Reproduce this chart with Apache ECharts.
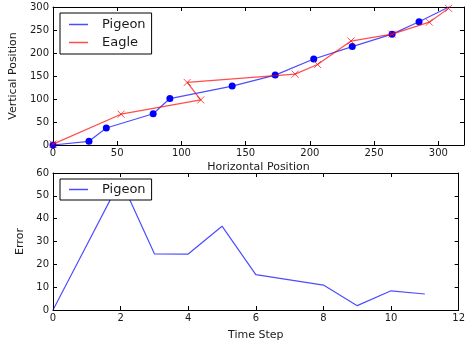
<!DOCTYPE html>
<html>
<head>
<meta charset="utf-8">
<script src="https://cdn.jsdelivr.net/npm/echarts@6/dist/echarts.min.js"></script>
<style>
  html, body { margin: 0; padding: 0; background: #fff; }
  #chart { width: 468px; height: 346px; }
</style>
</head>
<body>
<div id="chart"></div>
<script>
// Top plot: flight paths
const pigeonX = [0, 28, 41.5, 78, 91, 139.5, 173, 203, 233, 264, 285, 309];
const pigeonY = [0, 8, 37, 68, 101, 128, 152, 187, 214, 241, 268, 301];
const eagleX = [0, 53, 115, 104.5, 188.5, 206, 232, 264, 293, 308];
const eagleY = [2, 67, 98, 136, 154, 175, 226, 241, 267, 297];

// Bottom plot: error per time step
const timeSteps = [0, 1, 2, 3, 4, 5, 6, 7, 8, 9, 10, 11];
const errorValues = [0, 28.5, 57, 24.6, 24.5, 36.7, 15.5, 13.2, 10.9, 1.9, 8.4, 7.0];

const FONT = "DejaVu Sans";
const TEXT = "#1a1a1a";
const BLUE_LINE = "rgba(0, 0, 255, 0.7)";
const RED_LINE = "rgba(255, 0, 0, 0.7)";

const pair = (xs, ys) => xs.map((x, i) => [x, ys[i]]);

// axis factory, matplotlib classic look: inward ticks on every side
const makeAxis = (gridIndex, position, min, max, interval, withLabels, extra) => Object.assign({
   type: "value",
   gridIndex,
   position,
   min,
   max,
   interval,
   axisLine: { show: true, onZero: false, lineStyle: { color: "#000", width: 1 } },
   axisTick: { show: true, inside: true, length: 4, lineStyle: { color: "#000" } },
   splitLine: { show: false },
   axisLabel: {
      show: withLabels,
      fontFamily: FONT,
      fontSize: 10,
      color: TEXT,
      margin: 4,
   },
   nameTextStyle: { fontFamily: FONT, fontSize: 11, color: TEXT },
}, extra || {});

// legend entries: plain line sample, no marker
const legendItem = (name, color) => ({ name, itemStyle: { color, borderWidth: 0 } });

const chart = echarts.init(document.getElementById("chart"), null, { renderer: "canvas" });

const option = {
   animation: false,
   backgroundColor: "#fff",
   textStyle: { fontFamily: FONT },
   grid: [
      { left: 53, top: 7, width: 411, height: 138, containLabel: false },
      { left: 53, top: 173, width: 411, height: 137, containLabel: false },
   ],
   xAxis: [
      makeAxis(0, "bottom", 0, 320, 50, true, {
         name: "Horizontal Position", nameLocation: "middle", nameGap: 17,
         axisLabel: { show: true, fontFamily: FONT, fontSize: 10, color: TEXT, margin: 3, showMaxLabel: false },
      }),
      makeAxis(0, "top", 0, 320, 50, false),
      makeAxis(1, "bottom", 0, 12, 2, true, {
         name: "Time Step", nameLocation: "middle", nameGap: 20,
         axisLabel: { show: true, fontFamily: FONT, fontSize: 10, color: TEXT, margin: 3 },
      }),
      makeAxis(1, "top", 0, 12, 2, false),
   ],
   yAxis: [
      makeAxis(0, "left", 0, 300, 50, true, { name: "Vertical Position", nameLocation: "middle", nameGap: 28 }),
      makeAxis(0, "right", 0, 300, 50, false),
      makeAxis(1, "left", 0, 60, 10, true, { name: "Error", nameLocation: "middle", nameGap: 19 }),
      makeAxis(1, "right", 0, 60, 10, false),
   ],
   legend: [
      {
         left: 60,
         top: 13,
         orient: "vertical",
         backgroundColor: "#fff",
         borderColor: "#000",
         borderWidth: 1,
         borderRadius: 0,
         padding: [5, 6, 5, 9],
         itemGap: 5,
         itemWidth: 19,
         itemHeight: 1.5,
         icon: "rect",
         textStyle: { fontFamily: FONT, fontSize: 13, color: TEXT, padding: [0, 0, 0, 9] },
         data: [legendItem("Pigeon", BLUE_LINE), legendItem("Eagle", RED_LINE)],
         selectedMode: false,
      },
      {
         left: 60,
         top: 179,
         orient: "vertical",
         backgroundColor: "#fff",
         borderColor: "#000",
         borderWidth: 1,
         borderRadius: 0,
         padding: [4, 6, 4, 9],
         itemWidth: 19,
         itemHeight: 1.5,
         icon: "rect",
         textStyle: { fontFamily: FONT, fontSize: 13, color: TEXT, padding: [0, 0, 0, 9] },
         data: [legendItem("Pigeon", BLUE_LINE)],
         selectedMode: false,
      },
   ],
   series: [
      {
         name: "Pigeon",
         type: "line",
         xAxisIndex: 0,
         yAxisIndex: 0,
         data: pair(pigeonX, pigeonY),
         symbol: "circle",
         symbolSize: 7,
         showAllSymbol: true,
         itemStyle: { color: "#0000ff" },
         lineStyle: { color: BLUE_LINE, width: 1.2 },
         z: 2,
      },
      {
         name: "Eagle",
         type: "line",
         xAxisIndex: 0,
         yAxisIndex: 0,
         data: pair(eagleX, eagleY),
         symbol: "path://M0,0L8,8M8,0L0,8",
         symbolSize: 7,
         showAllSymbol: true,
         itemStyle: { color: "none", borderColor: RED_LINE, borderWidth: 1 },
         lineStyle: { color: RED_LINE, width: 1.2 },
         z: 3,
      },
      {
         name: "Pigeon",
         type: "line",
         xAxisIndex: 2,
         yAxisIndex: 2,
         data: pair(timeSteps, errorValues),
         showSymbol: false,
         itemStyle: { color: BLUE_LINE },
         lineStyle: { color: BLUE_LINE, width: 1.2 },
         z: 2,
      },
   ],
};

chart.setOption(option);
</script>
</body>
</html>
